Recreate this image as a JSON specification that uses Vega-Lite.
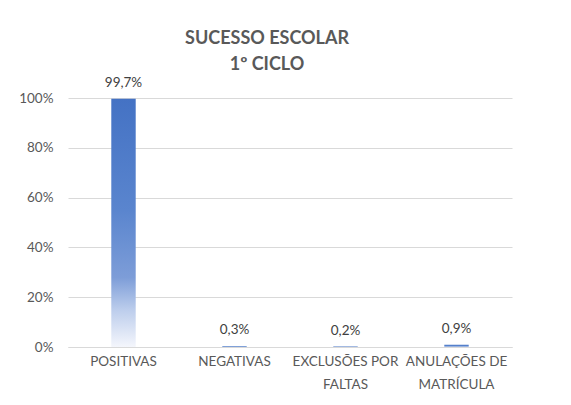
{
  "$schema": "https://vega.github.io/schema/vega-lite/v6.json",
  "autosize": {"type": "none"},
  "width": 444,
  "height": 249,
  "padding": {"left": 68, "top": 98, "right": 59, "bottom": 58},
  "background": "white",
  "title": {
    "text": ["SUCESSO ESCOLAR", "1º CICLO"],
    "fontSize": 18,
    "fontWeight": "bold",
    "color": "#595959",
    "font": "Lato",
    "lineHeight": 26,
    "anchor": "middle",
    "dx": -23,
    "baseline": "alphabetic",
    "offset": -12
  },
  "data": {
    "values": [
      {"categoria": "POSITIVAS", "valor": 0.997},
      {"categoria": "NEGATIVAS", "valor": 0.003},
      {"categoria": "EXCLUSÕES POR FALTAS", "valor": 0.002},
      {"categoria": "ANULAÇÕES DE MATRÍCULA", "valor": 0.009}
    ]
  },
  "encoding": {
    "x": {
      "field": "categoria",
      "type": "nominal",
      "sort": null,
      "scale": {"paddingInner": 0.78, "paddingOuter": 0.39},
      "axis": {
        "title": null,
        "labelAngle": 0,
        "labelFont": "Lato",
        "labelFontSize": 13.5,
        "labelColor": "#595959",
        "labelPadding": 7,
        "labelLineHeight": 23,
        "ticks": false,
        "domainColor": "#d9d9d9",
        "labelExpr": "datum.label == 'EXCLUSÕES POR FALTAS' ? ['EXCLUSÕES POR', 'FALTAS'] : datum.label == 'ANULAÇÕES DE MATRÍCULA' ? ['ANULAÇÕES DE', 'MATRÍCULA'] : datum.label"
      }
    },
    "y": {
      "field": "valor",
      "type": "quantitative",
      "scale": {"domain": [0, 1], "nice": false},
      "axis": {
        "title": null,
        "format": ".0%",
        "values": [0, 0.2, 0.4, 0.6, 0.8, 1],
        "labelFont": "Lato",
        "labelFontSize": 13.5,
        "labelColor": "#595959",
        "labelPadding": 15,
        "ticks": false,
        "domain": false,
        "gridColor": "#d9d9d9"
      }
    }
  },
  "layer": [
    {
      "mark": {
        "type": "bar",
        "color": {
          "gradient": "linear",
          "x1": 0, "y1": 0, "x2": 0, "y2": 1,
          "stops": [
            {"offset": 0, "color": "#4472C4"},
            {"offset": 0.45, "color": "#5A85CE"},
            {"offset": 0.72, "color": "#7D9DD8"},
            {"offset": 0.85, "color": "#BCCDEC"},
            {"offset": 1, "color": "#F4F6FC"}
          ]
        }
      }
    },
    {
      "mark": {
        "type": "text",
        "baseline": "alphabetic",
        "dy": -12,
        "font": "Lato",
        "fontSize": 13.5,
        "color": "#404040"
      },
      "encoding": {
        "text": {"field": "valor", "type": "quantitative", "format": ".1%"}
      }
    }
  ],
  "config": {
    "locale": {
      "number": {"decimal": ",", "thousands": ".", "grouping": [3], "currency": ["", " €"]}
    },
    "view": {"stroke": null}
  }
}
